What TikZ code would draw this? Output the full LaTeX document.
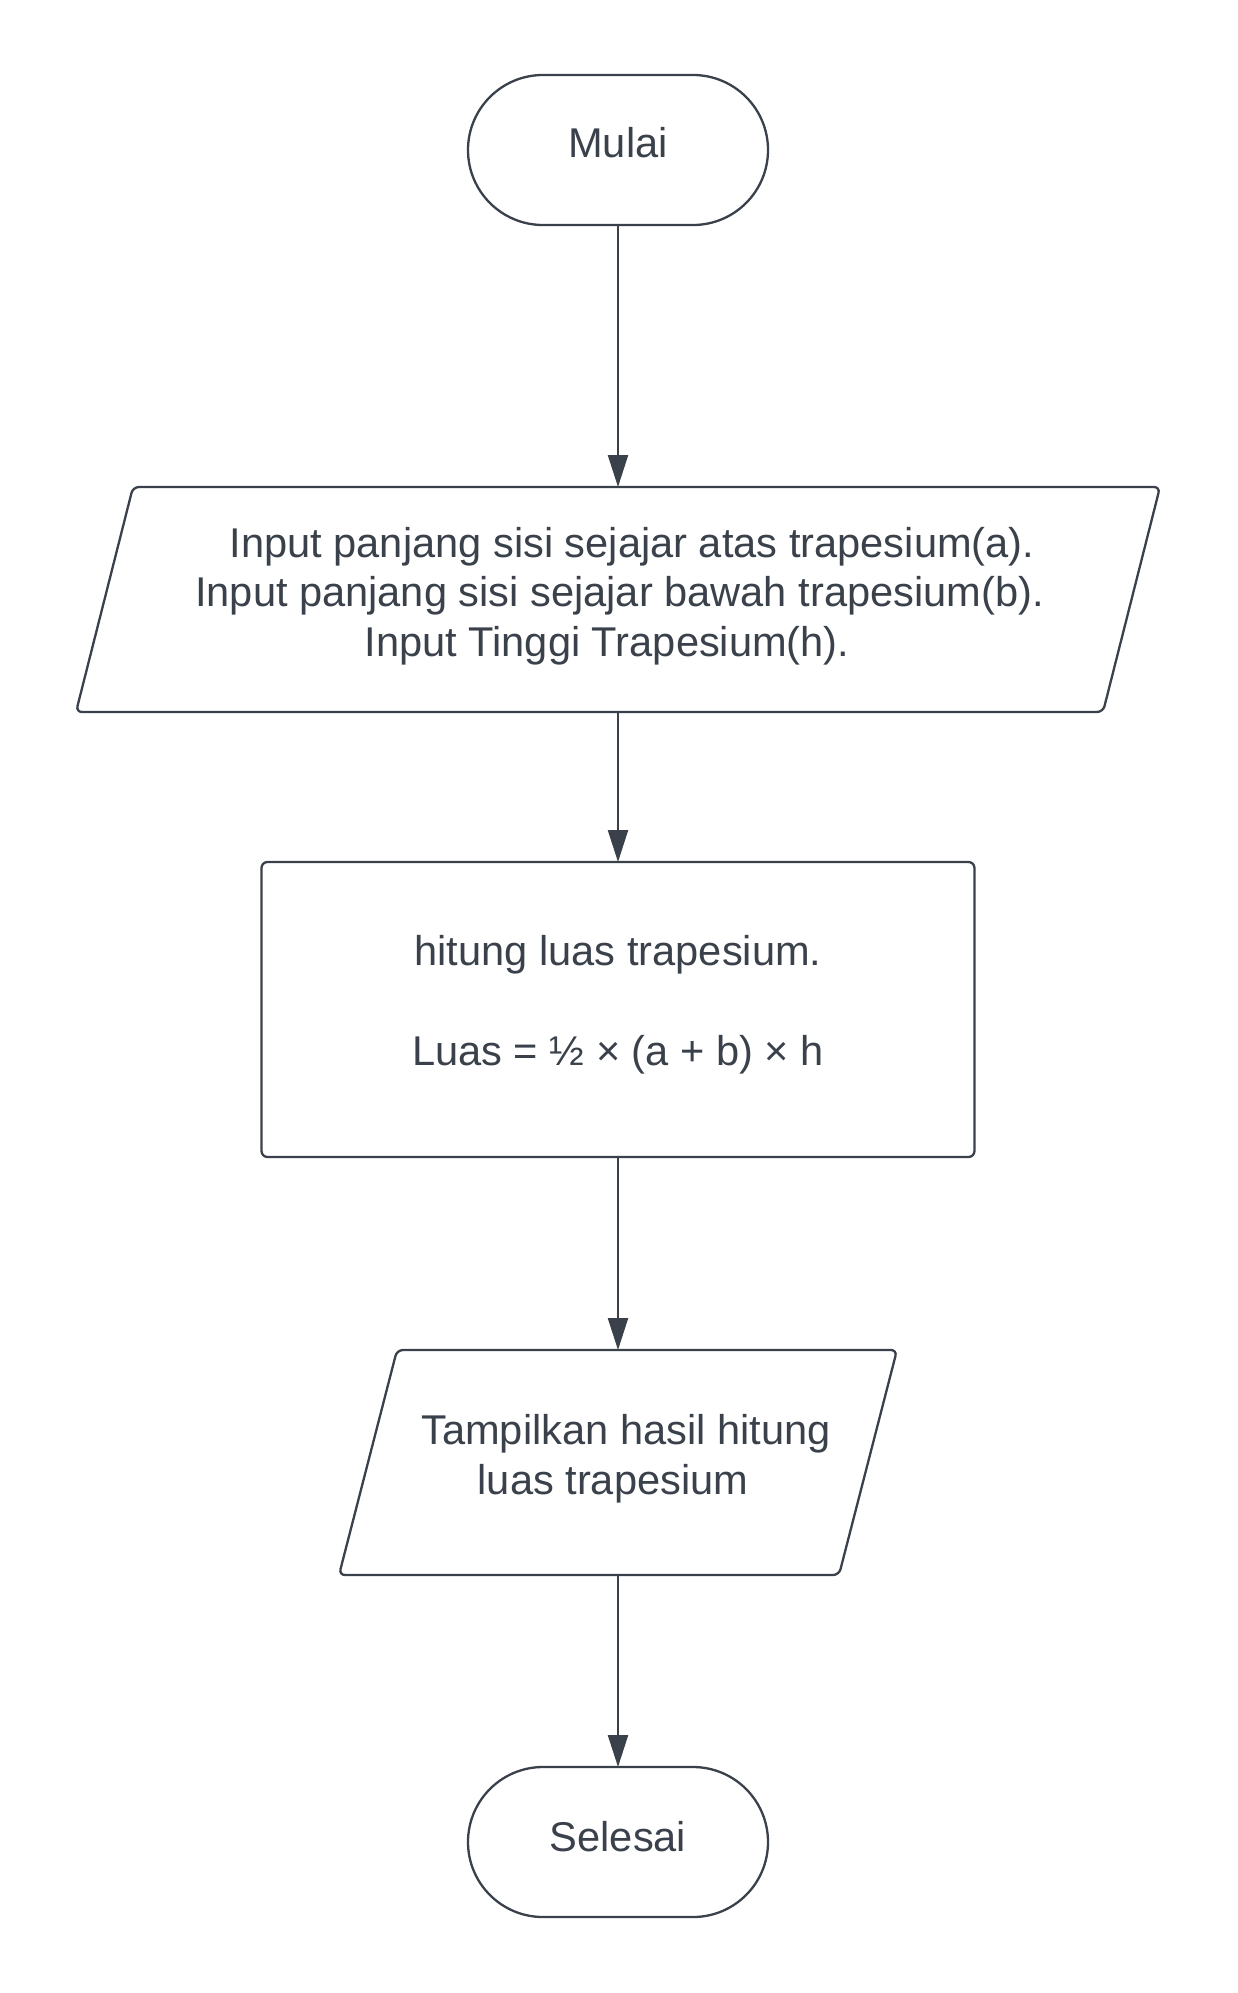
\documentclass[tikz,border=0pt]{standalone}
\usepackage{fontspec}
\setmainfont{Liberation Sans}
\usetikzlibrary{arrows.meta}
\definecolor{ink}{HTML}{3A414A}
\begin{document}
\begin{tikzpicture}[x=1pt,y=-1pt,
  every node/.style={inner sep=0pt, outer sep=0pt},
  frame/.style={draw=ink, line width=2.3pt},
  terminal/.style={frame, rectangle, rounded corners=75pt, minimum width=300pt, minimum height=150pt},
  procbox/.style={frame, rectangle, rounded corners=6pt},
  holder/.style={rectangle, draw=none},
  lbl/.style={text=ink, font=\fontsize{41.6}{49.5}\selectfont, anchor=base},
  flow/.style={draw=ink, line width=2.3pt, -{Triangle[length=32pt, width=20pt]}}]
\useasboundingbox[fill=white] (0,0) rectangle (1238,1993);

% Start
\node[terminal] (start) at (618,150) {};
\node[lbl] (startT) at (618,158) {Mulai};

% Input parallelogram (holder node spans its full width)
\node[holder, minimum width=1084pt, minimum height=225pt] (inp) at (618,599.5) {};
\draw[frame, rounded corners=6pt]
  ([xshift=57pt]inp.north west) -- (inp.north east) -- ([xshift=-57pt]inp.south east) -- (inp.south west) -- cycle;
\node[lbl] (inpA) at (632,557) {Input panjang sisi sejajar atas trapesium(a).};
\node[lbl] (inpB) at (619.5,606) {Input panjang sisi sejajar bawah trapesium(b).};
\node[lbl] (inpC) at (607,656) {Input Tinggi Trapesium(h).};

% Process
\node[procbox, minimum width=713pt, minimum height=295pt] (proc) at (618,1009.5) {};
\node[lbl] (procA) at (618,965) {hitung luas trapesium.};
\node[lbl] (procB) at (618,1065) {Luas = ½ × (a + b) × h};

% Output parallelogram
\node[holder, minimum width=558pt, minimum height=225pt] (outp) at (618,1462.5) {};
\draw[frame, rounded corners=6pt]
  ([xshift=58pt]outp.north west) -- (outp.north east) -- ([xshift=-58pt]outp.south east) -- (outp.south west) -- cycle;
\node[lbl] (outA) at (626,1444) {Tampilkan hasil hitung};
\node[lbl] (outB) at (613,1494) {luas trapesium};

% End
\node[terminal] (stop) at (618,1842) {};
\node[lbl] (stopT) at (618,1851) {Selesai};

% Connectors
\draw[flow] (start.south) -- (inp.north);
\draw[flow] (inp.south) -- (proc.north);
\draw[flow] (proc.south) -- (outp.north);
\draw[flow] (outp.south) -- (stop.north);
\end{tikzpicture}
\end{document}
